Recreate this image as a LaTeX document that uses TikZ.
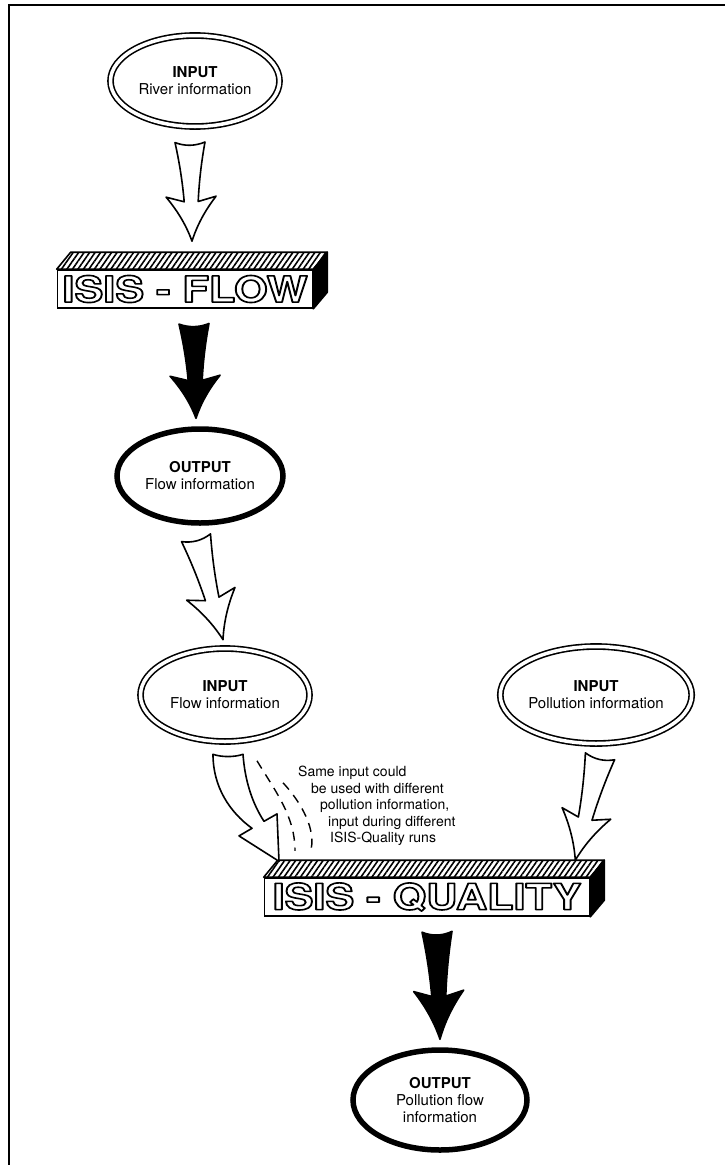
\documentclass[tikz,border=0pt]{standalone}
\usepackage{fontspec}
\setmainfont{TeX Gyre Heros}
\usepackage{graphicx}
\usetikzlibrary{shapes.geometric,patterns.meta,calc}
\tikzset{
	fatarrow/.pic={
		\draw[fill=#1,line width=1.6pt,line join=round]
			(-15,0) .. controls (-5,4) and (5,4) .. (15,0)
			.. controls (10,25) and (8,45) .. (7,60) -- (25,55)
			.. controls (13,70) and (5,85) .. (0,100)
			.. controls (-5,85) and (-13,70) .. (-25,55)
			-- (-7,60) .. controls (-8,45) and (-10,25) .. (-15,0) -- cycle;
	}
}
\tikzset{
	infield/.style={ellipse,draw,double,line width=1.6pt,double distance=3.5pt,inner sep=0pt,align=center,font=\fontsize{15}{17}\selectfont},
	outfield/.style={ellipse,draw,line width=5.5pt,inner sep=0pt,align=center,font=\fontsize{15}{17}\selectfont},
	model/.style={draw,line width=1.6pt,fill=white,minimum height=38,inner sep=0pt,font=\fontsize{36}{36}\selectfont\bfseries},
	hatched/.style={draw,line width=1.6pt,line join=round,pattern={Lines[angle=55,distance=4.5pt,line width=1.6pt]}}
}
% hollow (outlined) lettering of the model names
\newcommand\modelname[1]{\scalebox{1.2}[1]{\color{white}\special{pdf:literal direct 0 G 1.6 w 1 j 2 Tr}#1\special{pdf:literal direct 0 Tr}}}

\begin{document}
\begin{tikzpicture}[x=1pt,y=-1pt]
\useasboundingbox (0,0) rectangle (725,1165);
%frame
\draw[line width=1.8pt] (725,5) -- (9,5) -- (9,1165);

%inputs and outputs
\node[infield,minimum width=169,minimum height=91] (river) at (195,81) {\textbf{INPUT}\\River information};
\node[outfield,minimum width=166,minimum height=94] (flowout) at (200,476) {\textbf{OUTPUT}\\Flow information};
\node[infield,minimum width=169,minimum height=93] (flowin) at (225,695) {\textbf{INPUT}\\Flow information};
\node[infield,minimum width=183,minimum height=97] (pollin) at (596,695) {\textbf{INPUT}\\Pollution information};
\node[outfield,minimum width=174,minimum height=100] (pollout) at (440,1100) {\textbf{OUTPUT}\\Pollution flow\\information};

%models
\node[model,minimum width=255] (flow) at (185,289) {\modelname{ISIS - FLOW}};
\node[model,minimum width=325] (quality) at (427,897) {\modelname{ISIS - QUALITY}};
\foreach \m in {flow,quality}{
	\draw[hatched] (\m.north west) -- ++(14,-17) -- ($(\m.north east)+(14,-17)$) -- (\m.north east) -- cycle;
	\draw[fill=black,line width=1.6pt,line join=round] (\m.north east) -- ++(14,-17) -- ++(0,40) -- (\m.south east) -- cycle;
}

%arrows
\coordinate (a1s) at ([xshift=-5pt,yshift=-15pt]river.south);
\coordinate (a1t) at ([xshift=7pt,yshift=28pt]flow.north);
\coordinate (a2s) at ([xshift=9pt,yshift=-15pt]flow.south);
\coordinate (a2t) at ([xshift=-4pt,yshift=8pt]flowout.north);
\coordinate (a3s) at ([xshift=-4pt,yshift=-12pt]flowout.south);
\coordinate (a3t) at ([xshift=-2pt,yshift=8pt]flowin.north);
\coordinate (a5s) at ([xshift=4pt,yshift=-12pt]pollin.south);
\coordinate (a5t) at ([xshift=-15pt,yshift=17pt]quality.north east);
\coordinate (a6s) at ([xshift=10pt,yshift=-15pt]quality.south);
\coordinate (a6t) at ([yshift=8pt]pollout.north);
\foreach \s/\t/\c in {a1s/a1t/white,a2s/a2t/black,a3s/a3t/white,a5s/a5t/white,a6s/a6t/black}
	\path let \p1=($(\t)-(\s)$), \n1={veclen(\x1,\y1)}, \n2={atan2(\y1,\x1)} in
		(\s) pic[rotate=\n2+90,yscale=\n1/100] {fatarrow=\c};

%flow input into quality, and repeated runs
\begin{scope}[shift={(flowin.south)}]
\draw[fill=white,line width=1.6pt,line join=round]
	(-12,12) .. controls (-3,15) and (9,15) .. (18,12)
	.. controls (20,40) and (28,62) .. (39,79) -- (52,71.6) -- (54,119)
	-- (14,93.6) -- (27,86)
	.. controls (5,70) and (-12,45) .. (-12,12) -- cycle;
\draw[dashed,line width=1.4pt,dash pattern=on 9pt off 7pt] (32,18.5) .. controls (50,48.5) and (70,73.5) .. (70,108.5);
\draw[dashed,line width=1.4pt,dash pattern=on 9pt off 7pt] (58,40.5) .. controls (75,58.5) and (93,88.5) .. (85,110.5);
\end{scope}
\node[anchor=north west,align=left,inner sep=0pt,font=\fontsize{14}{16.5}\selectfont] (note) at (298,766)
	{Same input could\\\hspace*{13pt}be used with different\\\hspace*{22pt}pollution information,\\\hspace*{30pt}input during different\\\hspace*{32pt}ISIS-Quality runs};
\end{tikzpicture}
\end{document}
